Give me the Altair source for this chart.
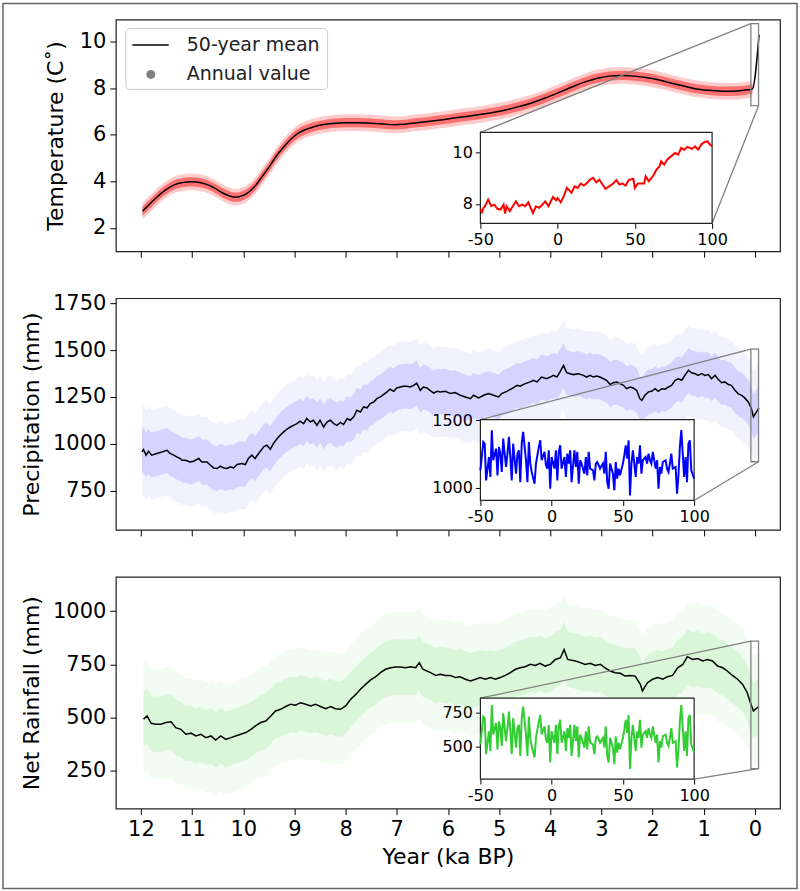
import altair as alt
import pandas as pd

FONT = "DejaVu Sans"

# ---------------- data ----------------
# 50-year mean temperature (ka BP, deg C)
temp_mean = [(11.97, 2.72), (11.85, 2.98), (11.7, 3.3), (11.55, 3.58), (11.35, 3.85), (11.15, 3.96),
             (11.0, 3.98), (10.85, 3.95), (10.7, 3.86), (10.55, 3.7), (10.4, 3.5), (10.25, 3.36),
             (10.15, 3.32), (10.05, 3.36), (9.95, 3.45), (9.85, 3.62), (9.75, 3.85), (9.65, 4.15),
             (9.5, 4.6), (9.35, 5.1), (9.2, 5.5), (9.05, 5.85), (8.9, 6.1), (8.75, 6.25), (8.6, 6.36),
             (8.4, 6.45), (8.2, 6.5), (8.0, 6.52), (7.75, 6.52), (7.5, 6.5), (7.25, 6.46), (7.05, 6.43),
             (6.85, 6.45), (6.6, 6.52), (6.35, 6.58), (6.1, 6.65), (5.85, 6.73), (5.6, 6.8), (5.35, 6.88),
             (5.1, 6.97), (4.85, 7.08), (4.6, 7.22), (4.35, 7.38), (4.1, 7.58), (3.85, 7.8), (3.6, 8.03),
             (3.35, 8.25), (3.1, 8.42), (2.85, 8.52), (2.6, 8.55), (2.35, 8.52), (2.1, 8.45), (1.85, 8.34),
             (1.6, 8.2), (1.35, 8.07), (1.1, 7.96), (0.85, 7.9), (0.6, 7.87), (0.35, 7.88), (0.15, 7.93),
             (0.05, 7.97), (-0.08, 10.3)]

# 50-year mean precipitation (ka BP, mm)
precip_mean = [(11.98, 957), (11.95, 970), (11.90, 940), (11.85, 961), (11.79, 940), (11.69, 949),
               (11.59, 957), (11.49, 966), (11.43, 949), (11.36, 940), (11.30, 931), (11.23, 922),
               (11.20, 913), (11.13, 913), (11.04, 904), (10.97, 908), (10.87, 922), (10.81, 904),
               (10.71, 904), (10.64, 886), (10.58, 872), (10.51, 869), (10.45, 881), (10.38, 872),
               (10.32, 869), (10.25, 878), (10.19, 872), (10.12, 890), (10.03, 895), (9.96, 890),
               (9.90, 922), (9.83, 940), (9.77, 922), (9.70, 949), (9.60, 984), (9.54, 993),
               (9.47, 972), (9.41, 1002), (9.34, 1028), (9.28, 1046), (9.21, 1064), (9.15, 1078),
               (9.08, 1090), (9.02, 1099), (8.95, 1108), (8.89, 1121), (8.82, 1108), (8.76, 1135),
               (8.69, 1117), (8.63, 1126), (8.56, 1099), (8.50, 1126), (8.43, 1090), (8.36, 1117),
               (8.30, 1126), (8.23, 1108), (8.17, 1099), (8.10, 1114), (8.04, 1103), (7.97, 1135),
               (7.91, 1126), (7.84, 1144), (7.78, 1179), (7.71, 1170), (7.65, 1197), (7.58, 1192),
               (7.52, 1215), (7.45, 1223), (7.39, 1241), (7.32, 1250), (7.26, 1262), (7.19, 1277),
               (7.13, 1291), (7.06, 1280), (7.00, 1298), (6.93, 1303), (6.87, 1307), (6.80, 1307),
               (6.74, 1303), (6.67, 1312), (6.61, 1324), (6.54, 1285), (6.48, 1303), (6.41, 1298),
               (6.35, 1285), (6.28, 1271), (6.21, 1280), (6.15, 1277), (6.05, 1280), (5.95, 1268),
               (5.86, 1273), (5.76, 1259), (5.66, 1250), (5.56, 1241), (5.50, 1259), (5.40, 1245),
               (5.30, 1259), (5.21, 1268), (5.11, 1259), (5.01, 1250), (4.95, 1268), (4.85, 1280),
               (4.75, 1294), (4.65, 1312), (4.59, 1307), (4.49, 1321), (4.39, 1330), (4.33, 1339),
               (4.26, 1330), (4.17, 1356), (4.07, 1347), (4.00, 1356), (3.94, 1365), (3.87, 1356),
               (3.81, 1383), (3.74, 1418), (3.68, 1379), (3.61, 1374), (3.55, 1369), (3.45, 1374),
               (3.35, 1365), (3.29, 1356), (3.22, 1365), (3.16, 1356), (3.09, 1361), (3.03, 1356),
               (2.96, 1347), (2.90, 1339), (2.83, 1316), (2.77, 1326), (2.70, 1330), (2.64, 1321),
               (2.57, 1312), (2.51, 1294), (2.44, 1303), (2.38, 1298), (2.31, 1285), (2.25, 1241),
               (2.21, 1232), (2.15, 1259), (2.08, 1277), (2.02, 1280), (1.95, 1294), (1.89, 1280),
               (1.82, 1294), (1.76, 1291), (1.69, 1303), (1.63, 1312), (1.56, 1339), (1.50, 1347),
               (1.43, 1339), (1.37, 1365), (1.30, 1392), (1.24, 1379), (1.17, 1374), (1.11, 1365),
               (1.04, 1374), (0.98, 1365), (0.91, 1369), (0.85, 1347), (0.78, 1365), (0.72, 1344),
               (0.65, 1326), (0.59, 1330), (0.52, 1316), (0.46, 1312), (0.39, 1285), (0.33, 1268),
               (0.26, 1259), (0.20, 1245), (0.13, 1223), (0.07, 1188), (0.03, 1144), (-0.03, 1170),
               (-0.08, 1192)]

# 50-year mean net rainfall (ka BP, mm)
net_mean = [(11.95, 492), (11.88, 508), (11.80, 473), (11.71, 469), (11.61, 469), (11.51, 477),
            (11.41, 480), (11.32, 453), (11.22, 445), (11.12, 422), (11.02, 427), (10.93, 414),
            (10.83, 422), (10.73, 406), (10.63, 414), (10.54, 395), (10.44, 414), (10.34, 398),
            (10.24, 406), (10.15, 414), (10.05, 422), (9.95, 430), (9.85, 445), (9.76, 461),
            (9.66, 477), (9.56, 484), (9.46, 508), (9.37, 531), (9.27, 539), (9.17, 552),
            (9.07, 563), (8.98, 558), (8.88, 570), (8.78, 563), (8.68, 555), (8.59, 563),
            (8.49, 552), (8.39, 542), (8.29, 552), (8.20, 542), (8.10, 539), (8.00, 555),
            (7.90, 586), (7.80, 609), (7.71, 633), (7.61, 656), (7.51, 677), (7.41, 692),
            (7.32, 711), (7.22, 727), (7.12, 734), (7.02, 738), (6.93, 738), (6.83, 734),
            (6.73, 739), (6.63, 734), (6.56, 758), (6.49, 727), (6.34, 711), (6.24, 698),
            (6.15, 703), (6.05, 698), (5.95, 698), (5.85, 688), (5.76, 692), (5.66, 680),
            (5.56, 672), (5.46, 680), (5.37, 688), (5.27, 680), (5.17, 688), (5.07, 680),
            (4.98, 688), (4.88, 698), (4.78, 711), (4.68, 727), (4.59, 734), (4.49, 739),
            (4.39, 750), (4.29, 745), (4.20, 755), (4.10, 742), (4.00, 750), (3.90, 773),
            (3.80, 781), (3.73, 820), (3.66, 773), (3.51, 766), (3.41, 758), (3.32, 750),
            (3.22, 755), (3.12, 745), (3.02, 750), (2.93, 734), (2.83, 719), (2.73, 711),
            (2.63, 708), (2.54, 695), (2.44, 698), (2.34, 695), (2.24, 656), (2.20, 625),
            (2.10, 664), (2.00, 680), (1.90, 688), (1.80, 680), (1.71, 692), (1.61, 698),
            (1.51, 734), (1.41, 750), (1.32, 786), (1.22, 773), (1.12, 777), (1.02, 766),
            (0.93, 773), (0.83, 766), (0.73, 742), (0.63, 734), (0.54, 719), (0.44, 698),
            (0.34, 680), (0.24, 656), (0.15, 617), (0.10, 578), (0.03, 531), (-0.02, 542),
            (-0.08, 552)]

# half-widths of the annual-value clouds (inner dense core, outer scatter)
temp_cloud = (0.2, 0.36)
precip_cloud = (120, 240)
net_cloud = (130, 260)

# inset: annual temperature (year, deg C)
temp_inset = [(-50, 7.8), (-49, 7.68), (-48, 7.85), (-47, 7.91), (-45, 8.17), (-43, 7.91), (-41, 7.97),
              (-39, 7.81), (-37, 7.78), (-35, 7.97), (-34, 7.63), (-33, 7.91), (-31, 7.72), (-27, 8.10),
              (-25, 7.91), (-23, 7.97), (-21, 7.91), (-19, 8.06), (-16, 7.65), (-14, 7.91), (-12, 7.85),
              (-10, 7.97), (-8, 8.10), (-6, 7.91), (-3, 8.27), (-1, 8.14), (0, 8.23), (2, 8.06), (4, 8.30),
              (6, 8.62), (9, 8.43), (11, 8.68), (13, 8.62), (15, 8.79), (17, 8.71), (19, 8.81), (21, 8.94),
              (23, 9.01), (25, 8.84), (27, 8.94), (29, 8.75), (31, 8.58), (34, 8.71), (36, 8.79), (38, 8.92),
              (40, 8.75), (42, 8.79), (44, 8.71), (46, 8.92), (49, 8.97), (50, 8.62), (52, 8.79), (54, 8.79),
              (56, 8.79), (57, 9.07), (59, 8.88), (62, 9.10), (64, 9.33), (66, 9.46), (67, 9.65), (69, 9.52),
              (71, 9.72), (74, 9.87), (76, 9.97), (78, 9.91), (80, 10.17), (82, 10.10), (84, 10.21),
              (87, 10.13), (89, 10.23), (91, 10.10), (93, 10.30), (95, 10.39), (97, 10.43), (98, 10.34),
              (100, 10.23)]

# insets: annual precipitation and net rainfall
rain_inset_years = [-50, -48, -47, -46, -44, -43, -42, -41, -39, -38, -37, -36, -35, -34, -32, -31, -30,
                    -29, -28, -27, -25, -24, -23, -22, -21, -20, -18, -17, -16, -15, -14, -12, -11, -10,
                    -9, -8, -7, -5, -4, -3, -2, -1, 0, 2, 3, 4, 5, 6, 7, 9, 10, 11, 12, 13, 14, 16, 17,
                    18, 19, 20, 21, 23, 24, 25, 26, 27, 29, 30, 31, 32, 33, 34, 36, 37, 38, 39, 40, 41,
                    43, 44, 45, 46, 47, 48, 50, 51, 52, 53, 54, 55, 56, 57, 59, 60, 61, 62, 63, 64, 66,
                    67, 68, 69, 70, 71, 73, 74, 75, 76, 77, 78, 80, 81, 82, 83, 84, 85, 87, 88, 89, 90,
                    91, 93, 94, 95, 96, 97, 98, 100]
precip_inset_mm = [1128, 1339, 1326, 1054, 1227, 1079, 1426, 1203, 1289, 1091, 1302, 1252, 1116, 1364,
                   1153, 1252, 1376, 1227, 1054, 1326, 1103, 1252, 1277, 1041, 1326, 1413, 1203, 1041,
                   1339, 1178, 1116, 1029, 1178, 1240, 1302, 1351, 1203, 1265, 1166, 1141, 1277, 992,
                   1227, 1141, 1277, 1054, 1265, 1314, 1141, 1227, 1079, 1252, 1178, 1277, 1041, 1277,
                   1153, 1265, 1029, 1203, 1178, 1103, 1227, 1091, 1265, 1141, 1128, 1054, 1178, 1190,
                   1166, 1141, 1178, 1103, 1265, 1041, 992, 1178, 1103, 980, 1190, 1066, 1141, 1091,
                   1178, 1240, 1314, 1215, 1351, 942, 1178, 1277, 1079, 1227, 1178, 1314, 1103, 1203,
                   1227, 1178, 1252, 1203, 1178, 1265, 1141, 1203, 992, 1153, 1103, 1190, 1203, 1141,
                   1116, 1178, 1252, 1141, 1153, 955, 1091, 1302, 1426, 1079, 1227, 1041, 1326, 1351,
                   1128, 1066]
net_inset_mm = [517, 723, 711, 444, 614, 468, 808, 590, 675, 480, 687, 638, 505, 747, 541, 638, 759, 614,
                444, 711, 493, 638, 662, 432, 711, 796, 590, 432, 723, 565, 505, 420, 565, 626, 687, 735,
                590, 650, 553, 529, 662, 383, 614, 529, 662, 444, 650, 699, 529, 614, 468, 638, 565, 662,
                432, 662, 541, 650, 420, 590, 565, 493, 614, 480, 650, 529, 517, 444, 565, 577, 553, 529,
                565, 493, 650, 432, 383, 565, 493, 371, 577, 456, 529, 480, 565, 626, 699, 602, 735, 335,
                565, 662, 468, 614, 565, 699, 493, 590, 614, 565, 638, 590, 565, 650, 529, 590, 383, 541,
                493, 577, 590, 529, 505, 565, 638, 529, 541, 347, 480, 687, 808, 468, 614, 432, 711, 735,
                517, 456]

# zoomed window of each inset (ka BP) and inset value ranges
zoom_ka = (0.08, -0.07)
temp_inset_range = [7.25, 10.77]
precip_inset_range = [905, 1505]
net_inset_range = [260, 859]

# ---------------- layout ----------------
W, H, GAP = 665, 232, 47
X_DOM = [-0.49, 12.49]
TICK_FS, TITLE_FS = 21, 22


def x_inv(px):
    return X_DOM[1] - px / W * (X_DOM[1] - X_DOM[0])


def y_inv(px, dom):
    return dom[1] - px / H * (dom[1] - dom[0])


ONE = pd.DataFrame({"k": [0]})
XS = alt.Scale(domain=X_DOM, reverse=True, nice=False, zero=False)


def panel(series, cloud, color, op_in, op_out, band_all, interp, ydom, yticks, ytitle, tpad,
          iyears, ivals, icolor, iydom, iyticks, ibox, bottom, extras=()):
    ka, val = zip(*series)
    df = pd.DataFrame({"ka": ka, "v": val})
    bd = df.copy() if band_all else df.iloc[:-1].copy()
    bd["lo_in"] = bd.v - cloud[0]
    bd["hi_in"] = bd.v + cloud[0]
    bd["lo_out"] = bd.v - cloud[1]
    bd["hi_out"] = bd.v + cloud[1]
    YS = alt.Scale(domain=ydom, nice=False, zero=False)

    XA = alt.Axis(values=list(range(13)), labels=bottom, format="d",
                  title="Year (ka BP)" if bottom else None, tickSize=6,
                  labelFontSize=TICK_FS, titleFontSize=TITLE_FS, labelPadding=4, titlePadding=7)
    YA = alt.Axis(values=yticks, format="d", title=ytitle, tickSize=6, labelFontSize=TICK_FS,
                  titleFontSize=TITLE_FS, labelPadding=4, titlePadding=tpad)

    def xd(v):
        return alt.XDatum(v, type="quantitative", scale=XS, axis=XA)

    def yd(v):
        return alt.YDatum(v, type="quantitative", scale=YS, axis=YA)

    outer = alt.Chart(bd).mark_area(color=color, opacity=op_out, interpolate=interp).encode(
        x=alt.X("ka:Q", scale=XS, axis=XA),
        y=alt.Y("lo_out:Q", scale=YS, axis=YA), y2="hi_out:Q")
    inner = alt.Chart(bd).mark_area(color=color, opacity=op_in, interpolate=interp).encode(
        x=alt.X("ka:Q", scale=XS, axis=XA),
        y=alt.Y("lo_in:Q", scale=YS, axis=YA), y2="hi_in:Q")
    line = alt.Chart(df).mark_line(color="black", strokeWidth=1.5, interpolate=interp).encode(
        x=alt.X("ka:Q", scale=XS, axis=XA),
        y=alt.Y("v:Q", scale=YS, axis=YA))

    ix0, ix1, iyb, iyt = ibox
    rect = alt.Chart(ONE).mark_rect(fill="white", fillOpacity=0, stroke="#808080", strokeWidth=1.3).encode(
        x=xd(zoom_ka[0]), x2=alt.X2Datum(zoom_ka[1]),
        y=yd(iydom[0]), y2=alt.Y2Datum(iydom[1]))
    c1 = alt.Chart(ONE).mark_rule(color="#808080", strokeWidth=1.3).encode(
        x=xd(zoom_ka[0]), y=yd(iydom[1]),
        x2=alt.X2Datum(x_inv(ix0)), y2=alt.Y2Datum(y_inv(iyt, ydom)))
    c2 = alt.Chart(ONE).mark_rule(color="#808080", strokeWidth=1.3).encode(
        x=xd(zoom_ka[1]), y=yd(iydom[0]),
        x2=alt.X2Datum(x_inv(ix1)), y2=alt.Y2Datum(y_inv(iyb, ydom)))
    main = alt.layer(outer, inner, line, rect, c1, c2, *extras)

    IXS = alt.Scale(domain=[-50, 100], range=[ix0, ix1], nice=False, zero=False)
    IYS = alt.Scale(domain=iydom, range=[iyb, iyt], nice=False, zero=False)
    IXA = alt.Axis(orient="bottom", offset=iyb - H, values=[-50, 0, 50, 100],
                   labelExpr="datum.value < 0 ? '-' + abs(datum.value) : '' + datum.value",
                   title=None, labelFontSize=16, tickSize=5, labelPadding=3)
    IYA = alt.Axis(orient="left", offset=-ix0, values=iyticks, format="d",
                   title=None, labelFontSize=16, tickSize=5, labelPadding=3)
    bg = alt.Chart(ONE).mark_rect(fill="white", stroke="#222222", strokeWidth=1.2).encode(
        x=alt.XDatum(-50, type="quantitative", scale=IXS, axis=IXA),
        x2=alt.X2Datum(100),
        y=alt.YDatum(iydom[0], type="quantitative", scale=IYS, axis=IYA),
        y2=alt.Y2Datum(iydom[1]))
    idf = pd.DataFrame({"yr": iyears, "iv": ivals})
    iline = alt.Chart(idf).mark_line(color=icolor, strokeWidth=2).encode(
        x=alt.X("yr:Q", scale=IXS, axis=IXA),
        y=alt.Y("iv:Q", scale=IYS, axis=IYA))
    inset = alt.layer(bg, iline)
    return alt.layer(main, inset).resolve_scale(x="independent", y="independent").properties(
        width=W, height=H)


# legend and outer frame (decorations in panel 1, pixel positions)
frame = alt.Chart(ONE).mark_rect(fill="white", fillOpacity=0, stroke="#666666", strokeWidth=1.5).encode(
    x=alt.value(-113), x2=alt.value(682), y=alt.value(-16), y2=alt.value(870))
leg_box = alt.Chart(ONE).mark_rect(fill="white", fillOpacity=0.8, stroke="#cccccc", strokeWidth=1,
                                   cornerRadius=4).encode(
    x=alt.value(10), x2=alt.value(212), y=alt.value(9), y2=alt.value(70))
leg_line = alt.Chart(ONE).mark_rule(color="black", strokeWidth=1.5).encode(
    x=alt.value(16.5), x2=alt.value(53), y=alt.value(25.5))
leg_dot = alt.Chart(ONE).mark_circle(color="gray", size=80, opacity=1).encode(
    x=alt.value(35), y=alt.value(55))
leg_t1 = alt.Chart(ONE).mark_text(align="left", baseline="middle", fontSize=19, font=FONT,
                                  color="#222222").encode(
    x=alt.value(71), y=alt.value(26), text=alt.value("50-year mean"))
leg_t2 = alt.Chart(ONE).mark_text(align="left", baseline="middle", fontSize=19, font=FONT,
                                  color="#222222").encode(
    x=alt.value(71), y=alt.value(55), text=alt.value("Annual value"))

p1 = panel(temp_mean, temp_cloud, "#ff0000", 0.45, 0.2, False, "monotone",
           [1.0, 10.95], [2, 4, 6, 8, 10], "Temperature (C˚)", 12,
           [p[0] for p in temp_inset], [p[1] for p in temp_inset], "#ff0000",
           temp_inset_range, [8, 10], (365, 597, 204, 113), False,
           extras=(frame, leg_box, leg_line, leg_dot, leg_t1, leg_t2))
p2 = panel(precip_mean, precip_cloud, "#0000ff", 0.12, 0.05, True, "linear",
           [542, 1776], [750, 1000, 1250, 1500, 1750], "Precipitation (mm)", 9,
           rain_inset_years, precip_inset_mm, "#0000ff",
           precip_inset_range, [1000, 1500], (365, 579, 202.5, 121.5), False)
p3 = panel(net_mean, net_cloud, "#32cd32", 0.13, 0.06, True, "linear",
           [73, 1161], [250, 500, 750, 1000], "Net Rainfall (mm)", 9,
           rain_inset_years, net_inset_mm, "#32cd32",
           net_inset_range, [500, 750], (365, 579, 202.5, 121.5), True)

chart = alt.vconcat(p1, p2, p3, spacing=GAP, bounds="flush").properties(
    padding={"left": 1, "top": 1, "right": 1, "bottom": 1}, background="white"
).configure_view(stroke="#222222", strokeWidth=1.2).configure_axis(
    labelFont=FONT, titleFont=FONT, labelColor="black", titleColor="black", tickColor="black",
    titleFontWeight="normal", grid=False, domain=False, labelFlush=False, labelOverlap=False
).configure_text(font=FONT)

chart.save("out.html", embed_options={"renderer": "svg", "actions": False})
